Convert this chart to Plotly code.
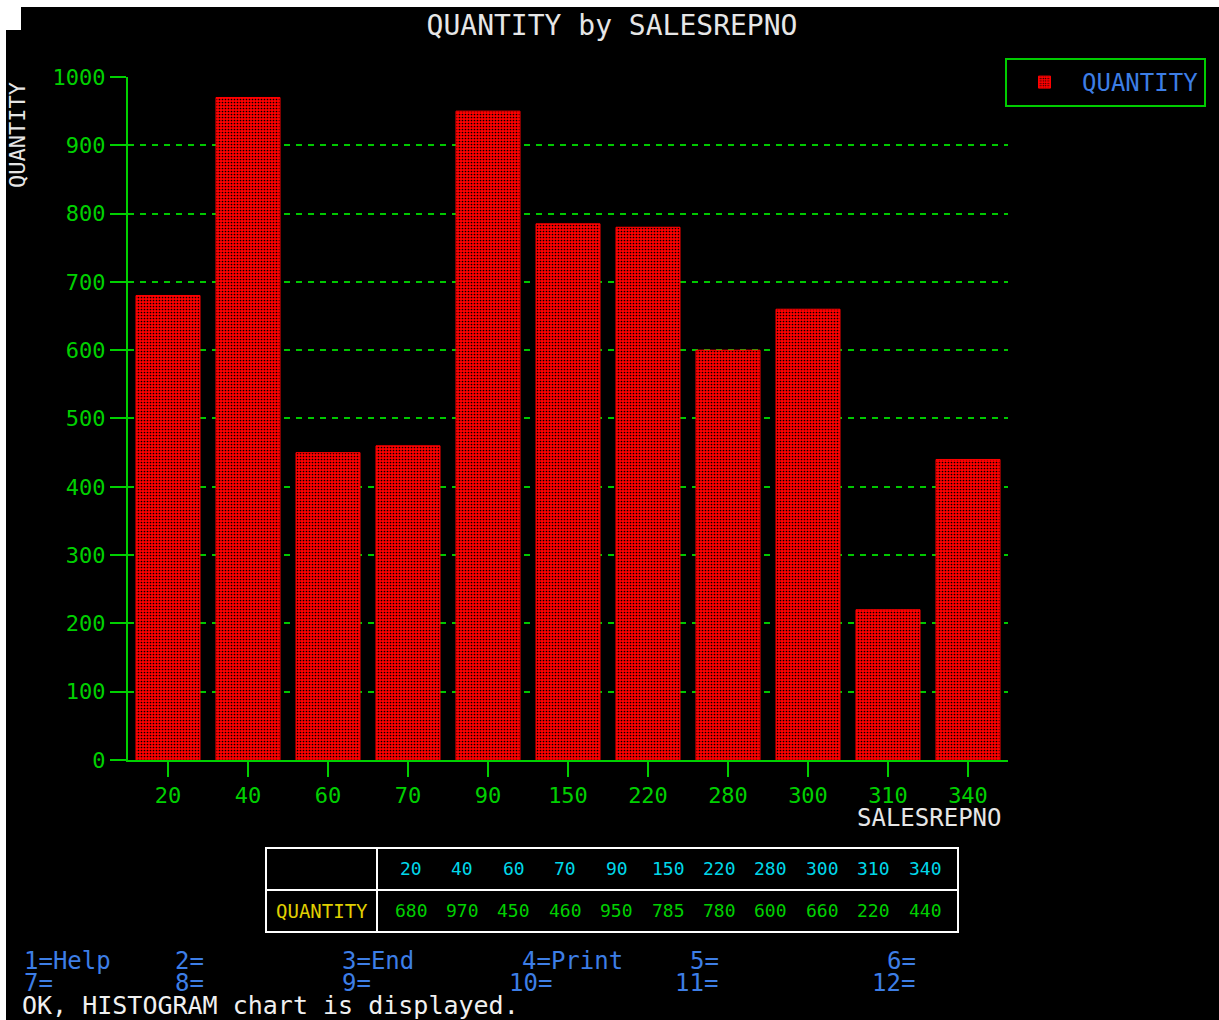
import plotly.graph_objects as go

W, H = 1219, 1020

salesrepno = ["20", "40", "60", "70", "90", "150", "220", "280", "300", "310", "340"]
quantity = [680, 970, 450, 460, 950, 785, 780, 600, 660, 220, 440]
y_ticks = list(range(0, 1001, 100))

title_text = "QUANTITY by SALESREPNO"
x_title = "SALESREPNO"
y_title = "QUANTITY"
fkeys_row1 = [("1=Help", 22), ("2=", 173), ("3=End", 340), ("4=Print", 520), ("5=", 688), ("6=", 885)]
fkeys_row2 = [("7=", 22), ("8=", 173), ("9=", 340), ("10=", 507), ("11=", 673), ("12=", 870)]
status_msg = "OK, HISTOGRAM chart is displayed."

GREEN = "#00d000"
GRID = "#00c800"
BLUE = "#3d7ee6"
CYAN = "#00d8ea"
YELLOW = "#e0d000"
WHITE = "#e6e6e6"
MONO = "DejaVu Sans Mono"

# the captured picture places paper row f at about OFF + SCL * f
OFF, SCL = 12.0, 0.9755


def px(x):
    return x / W


def py(y):
    f = (y - OFF) / SCL
    return 1 - f / H


fig = go.Figure()

fig.add_trace(go.Bar(
    x=salesrepno, y=quantity, name="QUANTITY",
    marker=dict(color="#ff0000", line=dict(color="#ff0000", width=1),
                pattern=dict(shape=".", fillmode="replace", bgcolor="#ff0000",
                             fgcolor="#000000", size=3, solidity=0.25)),
    xaxis="x", yaxis="y",
))

# data table below the chart: borders as shapes, cells as text
TBL_L, TBL_R, TBL_T, TBL_M, TBL_B, TBL_SPLIT = 266, 958, 848, 890, 932, 377
VAL_CENTER, VAL_PITCH = 668, 51.4

shapes = [
    dict(type="rect", xref="paper", yref="paper", x0=0, x1=1, y0=py(7), y1=py(0),
         fillcolor="white", line_width=0, layer="above"),
    dict(type="rect", xref="paper", yref="paper", x0=0, x1=px(6), y0=py(1020), y1=py(0),
         fillcolor="white", line_width=0, layer="above"),
    dict(type="rect", xref="paper", yref="paper", x0=0, x1=px(21), y0=py(30), y1=py(0),
         fillcolor="white", line_width=0, layer="above"),
    dict(type="rect", xref="paper", yref="paper", x0=px(TBL_L), x1=px(TBL_R), y0=py(TBL_B), y1=py(TBL_T),
         line=dict(color="white", width=2)),
    dict(type="line", xref="paper", yref="paper", x0=px(TBL_L), x1=px(TBL_R), y0=py(TBL_M), y1=py(TBL_M),
         line=dict(color="white", width=2)),
    dict(type="line", xref="paper", yref="paper", x0=px(TBL_SPLIT), x1=px(TBL_SPLIT), y0=py(TBL_B), y1=py(TBL_T),
         line=dict(color="white", width=2)),
]

annotations = [
    dict(text=y_title, x=px(18), y=py(80), xref="paper", yref="paper", textangle=-90,
         xanchor="center", yanchor="top", showarrow=False,
         font=dict(family=MONO, size=22, color=WHITE)),
    dict(text=x_title, x=px(1004), y=py(818), xref="paper", yref="paper",
         xanchor="right", yanchor="middle", showarrow=False,
         font=dict(family=MONO, size=24, color=WHITE)),
]

row_hdr_y = (TBL_T + TBL_M) / 2
row_val_y = (TBL_M + TBL_B) / 2
annotations.append(dict(text=y_title, x=px((TBL_L + TBL_SPLIT) / 2), y=py(row_val_y),
                        xref="paper", yref="paper", xanchor="center", yanchor="middle",
                        showarrow=False, font=dict(family=MONO, size=19, color=YELLOW)))
n = len(salesrepno)
for i, (cat, val) in enumerate(zip(salesrepno, quantity)):
    cx = VAL_CENTER + (i - (n - 1) / 2) * VAL_PITCH
    annotations.append(dict(text=cat, x=px(cx), y=py(row_hdr_y), xref="paper", yref="paper",
                            xanchor="center", yanchor="middle", showarrow=False,
                            font=dict(family=MONO, size=18, color=CYAN)))
    annotations.append(dict(text=str(val), x=px(cx), y=py(row_val_y), xref="paper", yref="paper",
                            xanchor="center", yanchor="middle", showarrow=False,
                            font=dict(family=MONO, size=18, color=GREEN)))

for label, x in fkeys_row1:
    annotations.append(dict(text=label, x=px(x), y=py(961), xref="paper", yref="paper",
                            xanchor="left", yanchor="middle", showarrow=False,
                            font=dict(family=MONO, size=24, color=BLUE)))
for label, x in fkeys_row2:
    annotations.append(dict(text=label, x=px(x), y=py(983), xref="paper", yref="paper",
                            xanchor="left", yanchor="middle", showarrow=False,
                            font=dict(family=MONO, size=24, color=BLUE)))
annotations.append(dict(text=status_msg, x=px(20), y=py(1006), xref="paper", yref="paper",
                        xanchor="left", yanchor="middle", showarrow=False,
                        font=dict(family=MONO, size=25, color="#f0f0f0")))

fig.update_layout(
    width=W, height=H,
    margin=dict(l=0, r=0, t=0, b=0),
    paper_bgcolor="black", plot_bgcolor="black",
    title=dict(text=title_text, x=px(612), y=py(25), xanchor="center", yanchor="middle",
               xref="paper", yref="paper",
               font=dict(family=MONO, size=28, color=WHITE)),
    bargap=0.2,
    showlegend=True,
    legend=dict(x=px(1005), y=py(58), xanchor="left", yanchor="top",
                bgcolor="black", bordercolor="#00cc00", borderwidth=2,
                font=dict(family=MONO, size=24, color=BLUE), itemwidth=65),
    xaxis=dict(type="category", domain=[px(128), px(1008)], range=[-0.5, 10.5],
               showline=True, linecolor=GREEN, linewidth=2,
               ticks="outside", ticklen=15, tickwidth=2, tickcolor=GREEN,
               tickfont=dict(family=MONO, size=22, color=GREEN),
               showgrid=False, zeroline=False, anchor="y", fixedrange=True),
    yaxis=dict(domain=[py(760), py(77)], range=[0, 1000], tickvals=y_ticks,
               showline=True, linecolor=GREEN, linewidth=2,
               ticks="outside", ticklen=16, tickwidth=2, tickcolor=GREEN,
               tickfont=dict(family=MONO, size=22, color=GREEN),
               showgrid=True, gridcolor=GRID, gridwidth=2, griddash="6px,6px",
               zeroline=False, anchor="x", fixedrange=True),
    shapes=shapes,
    annotations=annotations,
)

post = "document.body.style.margin='0';document.body.style.overflow='hidden';"
fig.write_html("out.html", config={"displayModeBar": False}, post_script=post)
